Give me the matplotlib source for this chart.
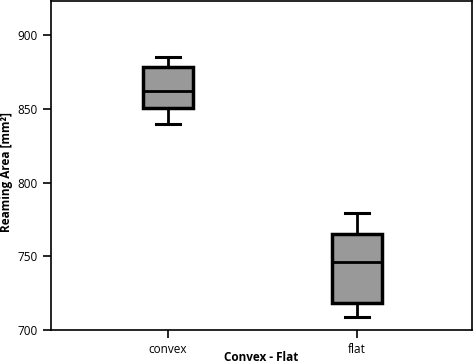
import matplotlib.pyplot as plt

# box statistics
categories = ['convex', 'flat']
whisker_low = [840.0, 708.6]
q1 = [850.8, 718.7]
medians = [862.3, 746.4]
q3 = [878.4, 765.2]
whisker_high = [885.2, 779.4]

plt.rcParams['font.family'] = ['Open Sans', 'DejaVu Sans']

fig = plt.figure(figsize=(4.73, 3.64), dpi=100)
ax = fig.add_axes([0.108, 0.093, 0.89, 0.904])

stats = []
for i, name in enumerate(categories):
    stats.append({'label': name, 'whislo': whisker_low[i], 'q1': q1[i],
                  'med': medians[i], 'q3': q3[i], 'whishi': whisker_high[i]})

ax.bxp(stats, positions=[0, 1], widths=0.265, patch_artist=True, showfliers=False,
       boxprops=dict(facecolor='#999999', edgecolor='black', linewidth=2.5),
       medianprops=dict(color='black', linewidth=2),
       whiskerprops=dict(color='black', linewidth=2),
       capprops=dict(color='black', linewidth=2.2),
       capwidths=0.125)

ax.set_xlim(-0.62, 1.61)
ax.set_ylim(700, 923)
ax.set_yticks([700, 750, 800, 850, 900])
ax.set_xticks([0, 1])
ax.set_xticklabels(categories)
ax.tick_params(axis='both', labelsize=8.5, length=6, width=1.2, direction='out')
ax.tick_params(axis='x', pad=3)
for s in ax.spines.values():
    s.set_linewidth(1.2)

ax.set_ylabel('Reaming Area [mm²]', fontsize=8.5, fontweight='bold', va='center')
ax.yaxis.set_label_coords(-0.106, 0.48)
ax.set_xlabel('Convex - Flat', fontsize=8.5, fontweight='bold', va='center')
ax.xaxis.set_label_coords(0.5, -0.083)

fig.savefig('out.png', dpi=100)
